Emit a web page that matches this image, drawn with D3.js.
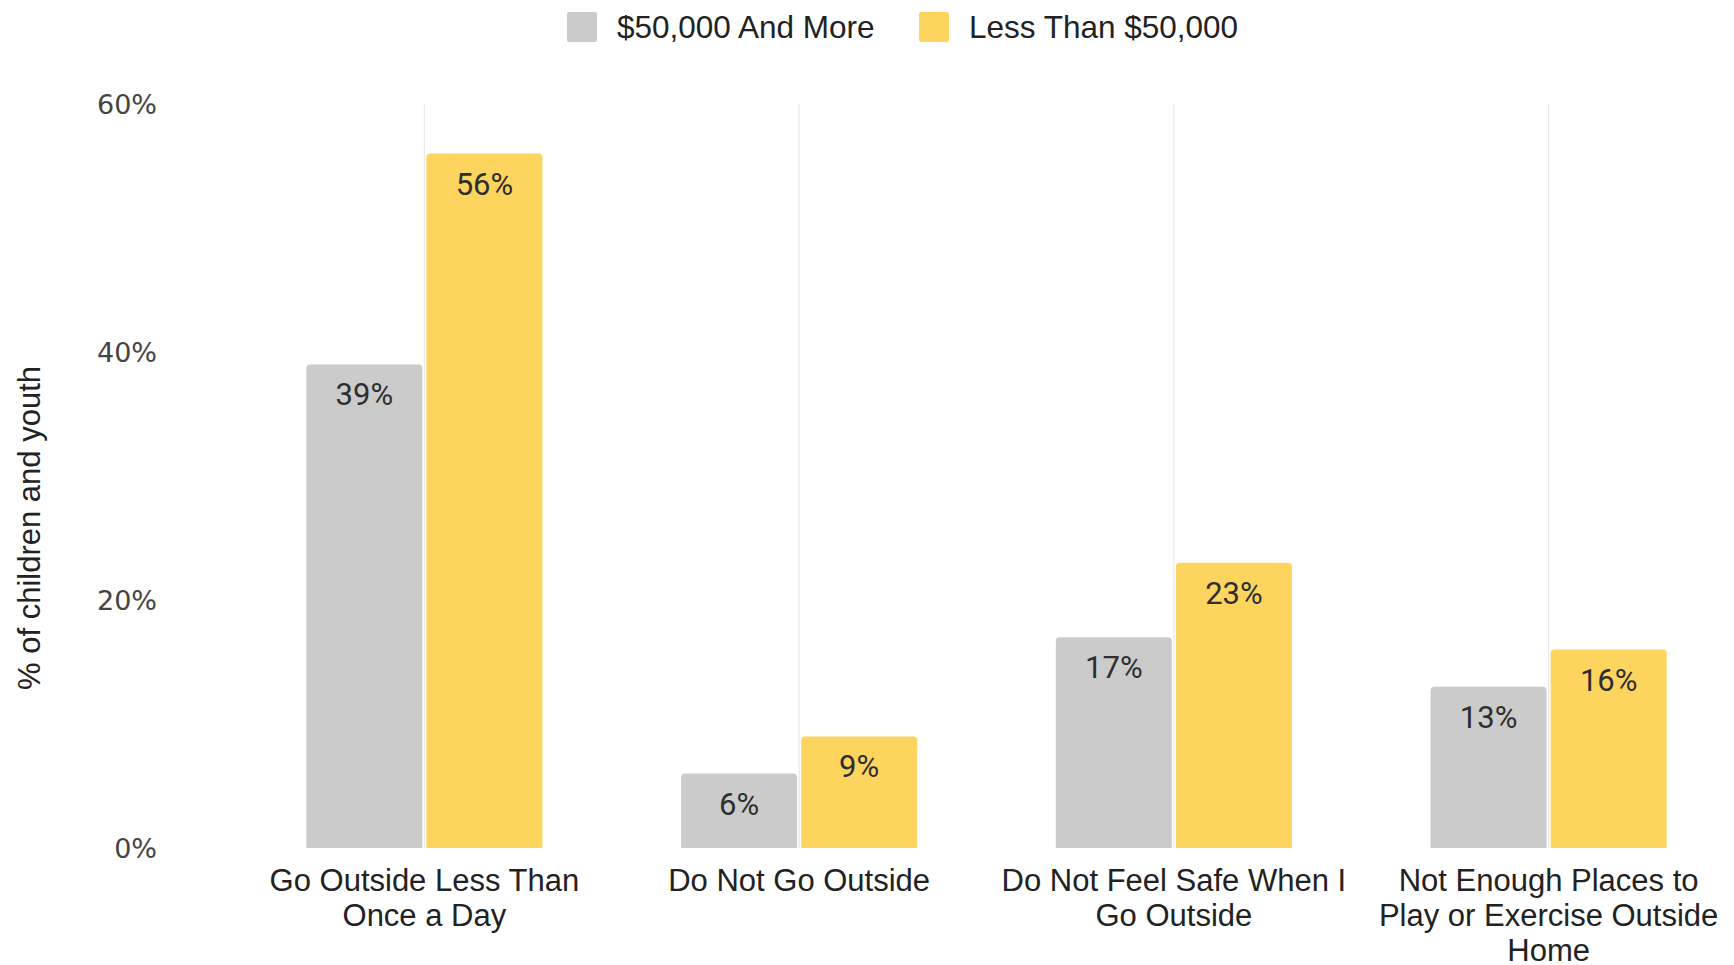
<!DOCTYPE html>
<html>
<head>
<meta charset="utf-8">
<script src="https://cdn.jsdelivr.net/npm/d3@7"></script>
<style>
  html, body { margin: 0; padding: 0; background: #ffffff; }
  svg { display: block; }
</style>
</head>
<body>
<svg id="chart" width="1734" height="965"></svg>
<script>
// Survey results: share of children and youth by household income
const categories = [
  "Go Outside Less Than Once a Day",
  "Do Not Go Outside",
  "Do Not Feel Safe When I Go Outside",
  "Not Enough Places to Play or Exercise Outside Home"
];
const categoryLines = [
  ["Go Outside Less Than", "Once a Day"],
  ["Do Not Go Outside"],
  ["Do Not Feel Safe When I", "Go Outside"],
  ["Not Enough Places to", "Play or Exercise Outside", "Home"]
];
const seriesNames = ["$50,000 And More", "Less Than $50,000"];
const higherIncome = [0.39, 0.06, 0.17, 0.13];
const lowerIncome = [0.56, 0.09, 0.23, 0.16];
const seriesColors = ["#cbcbcb", "#fcd45e"];
const yTicks = [0, 0.2, 0.4, 0.6];
const yTitle = "% of children and youth";

const seriesValues = [higherIncome, lowerIncome];

const svg = d3.select("#chart");

const plot = { left: 237, right: 1736, top: 104, bottom: 848 };

const x = d3.scaleBand()
  .domain(categories)
  .range([plot.left, plot.right])
  .paddingInner(0.37)
  .paddingOuter(0.185);

const xSub = d3.scaleBand()
  .domain(seriesNames)
  .range([0, x.bandwidth()])
  .paddingInner(0.034);

const y = d3.scaleLinear()
  .domain([0, 0.6])
  .range([plot.bottom, plot.top]);

// vertical guide lines through the middle of each group
svg.append("g")
  .selectAll("line")
  .data(categories)
  .join("line")
  .attr("x1", d => x(d) + x.bandwidth() / 2)
  .attr("x2", d => x(d) + x.bandwidth() / 2)
  .attr("y1", plot.top)
  .attr("y2", plot.bottom)
  .attr("stroke", "#e4e4e4")
  .attr("stroke-width", 1);

// y axis labels
const yAxis = d3.axisLeft(y)
  .tickValues(yTicks)
  .tickFormat(d3.format(".0%"))
  .tickSize(0)
  .tickPadding(0);

const yG = svg.append("g")
  .attr("transform", "translate(157,0)")
  .call(yAxis);
yG.select(".domain").remove();
yG.selectAll("text")
  .attr("font-family", "'DejaVu Sans', sans-serif")
  .attr("font-size", 27)
  .attr("fill", "#444444")
  .attr("dy", "0.36em");

// y axis title
svg.append("text")
  .attr("transform", `translate(${40},${528}) rotate(-90)`)
  .attr("text-anchor", "middle")
  .attr("font-family", "'Liberation Sans', Arial, sans-serif")
  .attr("font-size", 31)
  .attr("fill", "#222222")
  .text(yTitle);

// bars with slightly rounded top corners
function topRoundedRect(x0, y0, w, h, r) {
  r = Math.min(r, h, w / 2);
  return `M${x0},${y0 + h}` +
    `V${y0 + r}` +
    `Q${x0},${y0} ${x0 + r},${y0}` +
    `H${x0 + w - r}` +
    `Q${x0 + w},${y0} ${x0 + w},${y0 + r}` +
    `V${y0 + h}Z`;
}

const barData = [];
categories.forEach((c, i) => {
  seriesNames.forEach((s, j) => {
    barData.push({ category: c, series: s, value: seriesValues[j][i], color: seriesColors[j] });
  });
});

const bars = svg.append("g");
bars.selectAll("path")
  .data(barData)
  .join("path")
  .attr("d", d => topRoundedRect(
    x(d.category) + xSub(d.series),
    y(d.value),
    xSub.bandwidth(),
    y(0) - y(d.value),
    4))
  .attr("fill", d => d.color);

// value labels inside the top of each bar
bars.selectAll("text")
  .data(barData)
  .join("text")
  .attr("x", d => x(d.category) + xSub(d.series) + xSub.bandwidth() / 2)
  .attr("y", d => y(d.value) + 41)
  .attr("text-anchor", "middle")
  .attr("font-family", "Roboto, sans-serif")
  .attr("font-size", 31)
  .attr("fill", "#2e2e2e")
  .text(d => d3.format(".0%")(d.value));

// category labels, wrapped onto several lines
const xLabels = svg.append("g")
  .selectAll("text")
  .data(categories)
  .join("text")
  .attr("x", d => x(d) + x.bandwidth() / 2)
  .attr("y", 891)
  .attr("text-anchor", "middle")
  .attr("font-family", "'Liberation Sans', Arial, sans-serif")
  .attr("font-size", 31)
  .attr("fill", "#222222");

xLabels.each(function (d, i) {
  const t = d3.select(this);
  const cx = x(d) + x.bandwidth() / 2;
  categoryLines[i].forEach((line, k) => {
    t.append("tspan")
      .attr("x", cx)
      .attr("dy", k === 0 ? 0 : 35)
      .text(line);
  });
});

// legend
const legend = svg.append("g");
const legendX = [567, 919];
seriesNames.forEach((s, j) => {
  legend.append("rect")
    .attr("x", legendX[j])
    .attr("y", 12)
    .attr("width", 30)
    .attr("height", 30)
    .attr("rx", 2)
    .attr("fill", seriesColors[j]);
  legend.append("text")
    .attr("x", legendX[j] + 50)
    .attr("y", 38)
    .attr("font-family", "'Liberation Sans', Arial, sans-serif")
    .attr("font-size", 31.5)
    .attr("fill", "#222222")
    .text(s);
});
</script>
</body>
</html>
